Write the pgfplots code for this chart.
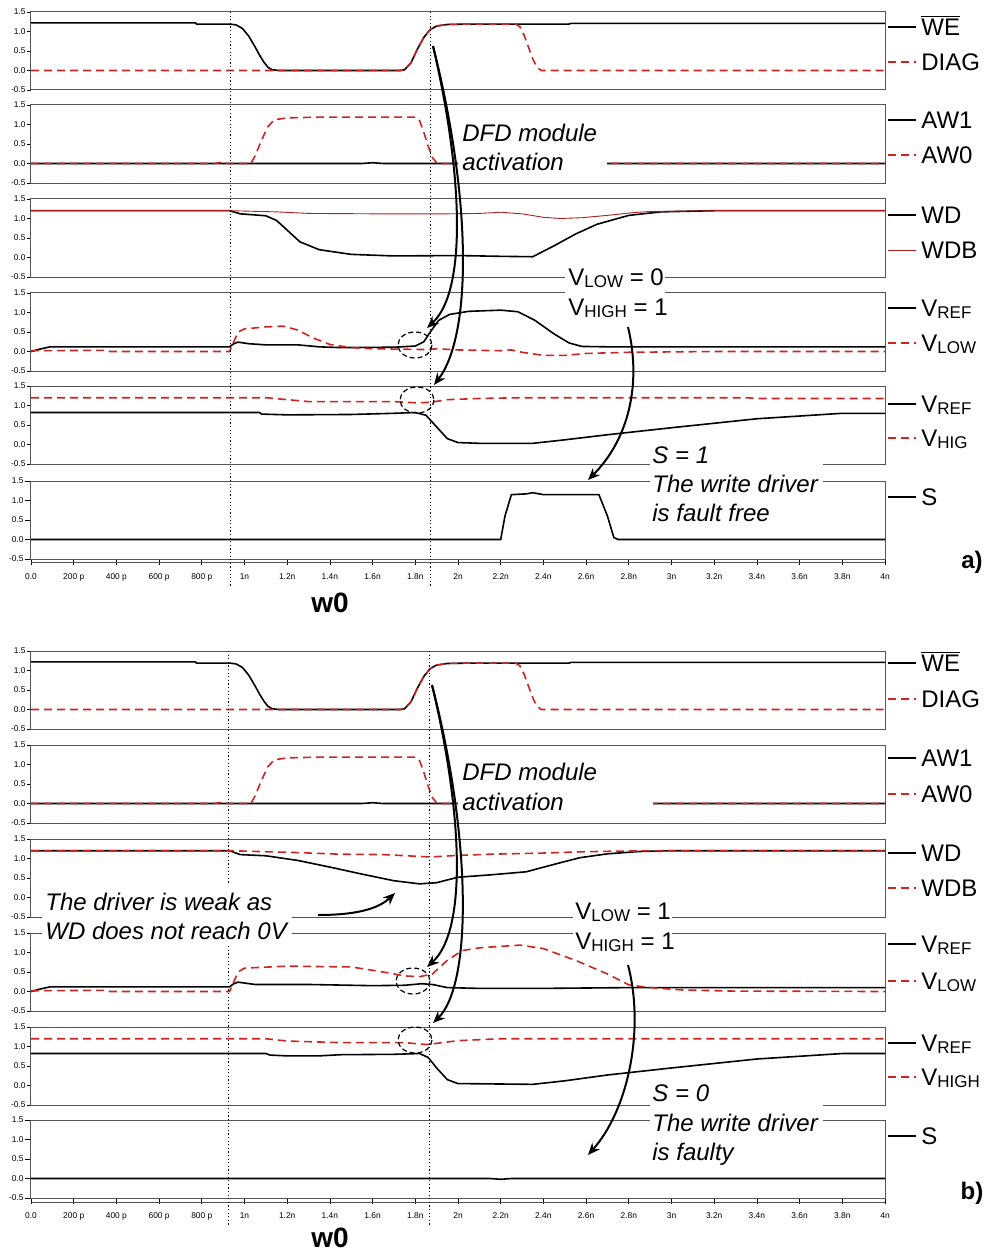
\documentclass[border=0pt]{standalone}
\usepackage{fontspec}
\setmainfont{Liberation Sans}
\usepackage{pgfplots}
\usepackage{pgfplotstable}
\pgfplotsset{compat=1.18}
\usetikzlibrary{arrows.meta}

\definecolor{wred}{RGB}{205,35,35}
\definecolor{framec}{RGB}{85,85,85}

\newcommand\lab{\fontsize{12}{14}\selectfont}
\newcommand\sub[1]{\raisebox{-1.2pt}{\fontsize{8.5}{9}\selectfont #1}}

\pgfplotsset{
  panel/.style={
    anchor=north west, scale only axis, width=427pt, height=39pt,
    xmin=0, xmax=4, ymin=-0.5, ymax=1.5,
    axis line style={framec, line width=0.5pt},
    ytick={-0.5,0,0.5,1,1.5},
    yticklabels={-0.5,0.0,0.5,1.0,1.5},
    xtick=\empty,
    tick pos=left, tick align=outside,
    major tick length=2pt,
    tick style={black, line width=0.4pt},
    yticklabel style={font=\fontsize{4.2}{5}\selectfont, inner sep=0.5pt},
    xticklabel style={font=\fontsize{4.2}{5}\selectfont, inner sep=1pt, yshift=-3pt},
  },
  bottom/.style={
    xtick={0,0.2,0.4,0.6,0.8,1,1.2,1.4,1.6,1.8,2,2.2,2.4,2.6,2.8,3,3.2,3.4,3.6,3.8,4},
    xticklabels={0.0,200 p,400 p,600 p,800 p,1n,1.2n,1.4n,1.6n,1.8n,2n,2.2n,2.4n,2.6n,2.8n,3n,3.2n,3.4n,3.6n,3.8n,4n},
    major tick length=3pt,
  },
  sig/.style={black, line width=0.8pt, no marks},
  dsig/.style={wred, line width=0.8pt, dash pattern=on 4pt off 2.5pt, no marks},
  tsig/.style={wred!85!black, line width=0.45pt, no marks},
}

% shared signals (same in a and b)
\pgfplotstableread{
t v
0 1.22
0.77 1.22
0.775 1.19
0.93 1.19
0.96 1.17
0.99 1.08
1.02 0.88
1.05 0.6
1.07 0.4
1.09 0.22
1.11 0.08
1.13 0.02
1.16 0.0
1.73 0.0
1.75 0.02
1.78 0.2
1.81 0.55
1.84 0.85
1.87 1.05
1.9 1.14
1.95 1.18
2.05 1.19
2.52 1.19
2.53 1.21
4 1.21
}\tWE

\pgfplotstableread{
t v
0 0
1.73 0
1.75 0.02
1.78 0.2
1.81 0.55
1.84 0.85
1.87 1.05
1.9 1.14
1.95 1.18
2.05 1.19
2.27 1.19
2.29 1.12
2.31 0.9
2.33 0.6
2.35 0.3
2.37 0.08
2.39 0
4 0
}\tDIAG

\pgfplotstableread{
t v
0 0
1.55 0
1.6 0.02
1.65 0
4 0
}\tAWone

\pgfplotstableread{
t v
0 0
0.86 0
0.89 0.03
0.92 0
1.03 0
1.05 0.2
1.08 0.6
1.11 0.95
1.14 1.12
1.2 1.17
1.35 1.19
1.8 1.19
1.82 1.1
1.84 0.8
1.86 0.45
1.88 0.15
1.9 0.02
1.92 0
4 0
}\tAWzero

\begin{document}
\begin{tikzpicture}
\path[use as bounding box] (0,0) rectangle (494.5pt,-625.5pt);

%%%%%%%%%%%%%%%%%%%% group a
\begin{axis}[panel, at={(15.5pt,-6pt)}]
\addplot[sig] table {\tWE};
\addplot[dsig] table {\tDIAG};
\end{axis}

\begin{axis}[panel, at={(15.5pt,-52.5pt)}]
\addplot[sig] table {\tAWone};
\addplot[dsig] table {\tAWzero};
\end{axis}

\begin{axis}[panel, at={(15.5pt,-99.5pt)}]
\addplot[sig] coordinates {(0,1.2)(0.93,1.2)(0.98,1.12)(1.1,1.07)(1.15,0.95)(1.2,0.7)(1.26,0.4)(1.35,0.2)(1.5,0.08)(1.7,0.04)(2.0,0.05)(2.2,0.03)(2.35,0.02)(2.45,0.3)(2.55,0.6)(2.65,0.85)(2.8,1.08)(2.95,1.17)(3.2,1.2)(4,1.2)};
\addplot[tsig] coordinates {(0,1.2)(0.93,1.2)(1.0,1.19)(1.15,1.17)(1.3,1.13)(1.6,1.12)(1.95,1.12)(2.1,1.13)(2.2,1.16)(2.3,1.12)(2.4,1.03)(2.48,1.0)(2.58,1.02)(2.7,1.08)(2.82,1.15)(2.9,1.18)(3.2,1.2)(4,1.2)};
\end{axis}

\begin{axis}[panel, at={(15.5pt,-146.5pt)}]
\addplot[sig] coordinates {(0,0)(0.04,0.06)(0.09,0.12)(0.93,0.12)(0.95,0.2)(0.97,0.24)(1.02,0.2)(1.1,0.17)(1.25,0.17)(1.35,0.12)(1.45,0.1)(1.7,0.11)(1.8,0.14)(1.84,0.25)(1.87,0.5)(1.91,0.8)(1.96,0.95)(2.05,1.03)(2.2,1.06)(2.28,1.02)(2.36,0.8)(2.45,0.45)(2.52,0.22)(2.58,0.13)(2.7,0.12)(4,0.12)};
\addplot[dsig] coordinates {(0,0.02)(0.35,0.03)(0.37,0)(0.93,0)(0.97,0.5)(1.0,0.58)(1.1,0.63)(1.18,0.65)(1.25,0.55)(1.32,0.35)(1.4,0.18)(1.5,0.1)(1.6,0.07)(1.85,0.05)(1.9,0.07)(2.0,0.04)(2.2,0.02)(2.25,0.04)(2.3,-0.02)(2.4,-0.1)(2.5,-0.1)(2.6,-0.05)(2.8,-0.02)(3.2,0)(4,0)};
\end{axis}

\begin{axis}[panel, at={(15.5pt,-193pt)}]
\addplot[sig] coordinates {(0,0.82)(1.07,0.82)(1.08,0.78)(1.2,0.76)(1.5,0.77)(1.7,0.8)(1.8,0.82)(1.85,0.75)(1.9,0.45)(1.95,0.15)(2.0,0.05)(2.1,0.03)(2.35,0.03)(2.5,0.12)(2.7,0.25)(3.0,0.43)(3.4,0.66)(3.8,0.8)(4,0.8)};
\addplot[dsig] coordinates {(0,1.2)(1.1,1.2)(1.2,1.15)(1.3,1.1)(1.7,1.1)(1.8,1.07)(1.87,1.08)(1.95,1.15)(2.1,1.18)(2.3,1.2)(3.35,1.2)(3.4,1.18)(4,1.18)};
\end{axis}

\begin{axis}[panel, bottom, at={(15.5pt,-240.5pt)}]
\addplot[sig] coordinates {(0,0)(2.2,0)(2.22,0.6)(2.25,1.15)(2.32,1.17)(2.35,1.2)(2.4,1.15)(2.66,1.15)(2.7,0.6)(2.73,0.05)(2.75,0)(4,0)};
\end{axis}

%%%%%%%%%%%%%%%%%%%% group b
\begin{axis}[panel, at={(15.5pt,-325.5pt)}]
\addplot[sig] table {\tWE};
\addplot[dsig] table {\tDIAG};
\end{axis}

\begin{axis}[panel, at={(15.5pt,-372.5pt)}]
\addplot[sig] table {\tAWone};
\addplot[dsig] table {\tAWzero};
\end{axis}

\begin{axis}[panel, at={(15.5pt,-419.5pt)}]
\addplot[sig] coordinates {(0,1.2)(0.93,1.2)(0.98,1.1)(1.1,1.07)(1.25,0.95)(1.4,0.78)(1.55,0.6)(1.7,0.43)(1.82,0.35)(1.9,0.38)(2.0,0.52)(2.15,0.58)(2.32,0.66)(2.45,0.85)(2.57,1.02)(2.7,1.12)(2.85,1.18)(3.0,1.2)(4,1.2)};
\addplot[dsig] coordinates {(0,1.2)(0.93,1.2)(1.0,1.19)(1.26,1.15)(1.45,1.11)(1.65,1.1)(1.87,1.04)(2.0,1.08)(2.15,1.11)(2.4,1.14)(2.57,1.17)(2.75,1.19)(3.0,1.2)(4,1.2)};
\end{axis}

\begin{axis}[panel, at={(15.5pt,-466.5pt)}]
\addplot[sig] coordinates {(0,0)(0.04,0.06)(0.09,0.12)(0.93,0.12)(0.95,0.2)(0.97,0.24)(1.05,0.18)(1.3,0.18)(1.6,0.15)(1.75,0.16)(1.83,0.2)(1.88,0.18)(1.95,0.1)(2.1,0.08)(2.4,0.08)(2.8,0.1)(4,0.1)};
\addplot[dsig] coordinates {(0,0.02)(0.35,0.03)(0.37,0)(0.93,0)(0.97,0.5)(1.0,0.6)(1.2,0.65)(1.5,0.63)(1.65,0.5)(1.75,0.4)(1.82,0.38)(1.88,0.45)(1.95,0.8)(2.02,1.05)(2.1,1.12)(2.29,1.19)(2.4,1.1)(2.55,0.8)(2.7,0.45)(2.8,0.17)(2.9,0.1)(3.05,0.04)(3.3,0.01)(4,0)};
\end{axis}

\begin{axis}[panel, at={(15.5pt,-513.5pt)}]
\addplot[sig] coordinates {(0,0.82)(1.1,0.82)(1.12,0.78)(1.2,0.76)(1.35,0.76)(1.45,0.79)(1.7,0.8)(1.82,0.82)(1.86,0.72)(1.9,0.45)(1.95,0.15)(2.0,0.05)(2.35,0.03)(2.5,0.12)(2.7,0.27)(3.0,0.45)(3.4,0.68)(3.8,0.82)(4,0.82)};
\addplot[dsig] coordinates {(0,1.2)(1.1,1.2)(1.2,1.14)(1.45,1.1)(1.75,1.1)(1.85,1.05)(1.9,1.08)(2.0,1.15)(2.2,1.2)(4,1.2)};
\end{axis}

\begin{axis}[panel, bottom, at={(15.5pt,-560pt)}]
\addplot[sig] coordinates {(0,0)(2.15,0)(2.2,-0.02)(2.25,0)(4,0)};
\end{axis}

%%%%%%%%%%%%%%%%%%%% annotations (pixel grid, y down)
\begin{scope}[x=0.5pt,y=-0.5pt]
% time axis base line under the last panel of each group
\draw[framec, line width=0.5pt] (31,562) -- (885,562);
\draw[framec, line width=0.5pt] (31,1202) -- (885,1202);

% dotted markers
\foreach \xx/\ya/\yb in {230/12/586, 430/12/586, 228/651/1225, 429/651/1225}
  \draw[black, line width=0.5pt, dash pattern=on 0.6pt off 1.2pt] (\xx,\ya) -- (\xx,\yb);

% white boxes behind text
\fill[white] (458,118) rectangle (607,178);
\fill[white] (565,262) rectangle (665,322);
\fill[white] (650,440) rectangle (823,528);
\fill[white] (458,757) rectangle (653,817);
\fill[white] (573,896) rectangle (672,956);
\fill[white] (650,1078) rectangle (823,1166);
\fill[white] (42,885) rectangle (292,945);

\begin{scope}[every node/.style={anchor=base west, inner sep=0pt, font=\lab}]
% text a
\node[font=\lab\itshape] at (462,141.5) {DFD module};
\node[font=\lab\itshape] at (462,170.5) {activation};
\node at (568,285.5) {V\sub{LOW} = 0};
\node at (568,315.5) {V\sub{HIGH} = 1};
\node[font=\lab\itshape] at (652,463.5) {S = 1};
\node[font=\lab\itshape] at (652,492.5) {The write driver};
\node[font=\lab\itshape] at (652,521.5) {is fault free};
% text b
\node[font=\lab\itshape] at (462,780.5) {DFD module};
\node[font=\lab\itshape] at (462,810.5) {activation};
\node at (575,919.5) {V\sub{LOW} = 1};
\node at (575,949.5) {V\sub{HIGH} = 1};
\node[font=\lab\itshape] at (652,1101.5) {S = 0};
\node[font=\lab\itshape] at (652,1131.5) {The write driver};
\node[font=\lab\itshape] at (652,1160.5) {is faulty};
\node[font=\lab\itshape] at (45,910.5) {The driver is weak as};
\node[font=\lab\itshape] at (45,939.5) {WD does not reach 0V};

% right-hand labels
\foreach \yy/\tt in {
   27/$\overline{\mbox{WE}}$, 62/DIAG, 120/AW1, 155/AW0, 215/WD, 250/WDB,
   308/V\sub{REF}, 343/V\sub{LOW}, 404/V\sub{REF}, 438/V\sub{HIG}, 497/S,
   663/$\overline{\mbox{WE}}$, 699/DIAG, 758/AW1, 794/AW0, 853/WD, 888/WDB,
   944/V\sub{REF}, 981/V\sub{LOW}, 1043/V\sub{REF}, 1077/V\sub{HIGH}, 1136/S}{
  \node at (921,\yy+8.5) {\tt};
}
\end{scope}
\foreach \yy in {27,120,215,308,404,497,663,758,853,944,1043,1136}
  \draw[black, line width=0.8pt] (888,\yy) -- (916,\yy);
\foreach \yy in {62,155,343,438,699,794,888,981,1077}
  \draw[wred, line width=0.8pt, dash pattern=on 4pt off 2.5pt] (888,\yy) -- (916,\yy);
\draw[wred!85!black, line width=0.45pt] (888,250) -- (916,250);

\node[font=\fontsize{12}{14}\selectfont\bfseries] at (972,562) {a)};
\node[font=\fontsize{12}{14}\selectfont\bfseries] at (972,1193) {b)};
\node[font=\fontsize{14}{16}\selectfont\bfseries] at (330,603) {w0};
\node[font=\fontsize{14}{16}\selectfont\bfseries] at (330,1238) {w0};

% dashed circles
\foreach \cx/\cy in {415/345, 417/400, 413/981, 415/1040}
  \draw[black, line width=0.6pt, dash pattern=on 2.5pt off 1.5pt] (\cx,\cy) ellipse [x radius=17, y radius=13];

% arrows
\begin{scope}[black, line width=1pt, -{Stealth[length=6pt,width=5pt]}]
\draw (433,46) .. controls (462,170) and (468,290) .. (427,328);
\draw (433,46) .. controls (472,200) and (472,335) .. (434,385);
\draw (628,327) .. controls (642,385) and (628,440) .. (588,480);
\draw (432,685) .. controls (462,810) and (468,930) .. (427,967);
\draw (432,685) .. controls (472,840) and (472,985) .. (433,1023);
\draw (628,965) .. controls (645,1030) and (628,1110) .. (588,1155);
\draw (318,915) .. controls (345,915) and (375,912) .. (395,893);
\end{scope}
\end{scope}
\end{tikzpicture}
\end{document}
